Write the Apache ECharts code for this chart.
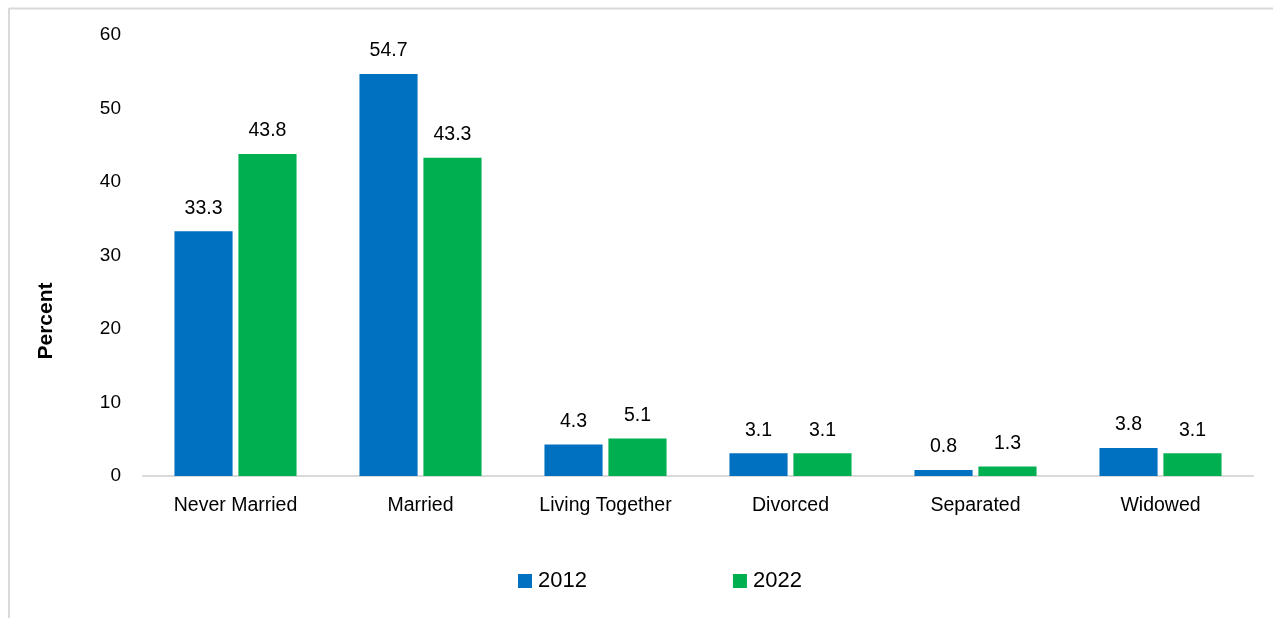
<!DOCTYPE html>
<html>
<head>
<meta charset="utf-8">
<script src="https://cdn.jsdelivr.net/npm/echarts@6/dist/echarts.min.js"></script>
<style>
  html, body { margin: 0; padding: 0; background: #fff; }
  #chart { width: 1273px; height: 618px; }
</style>
</head>
<body>
<div id="chart"></div>
<script>
  // marital status, percent
  const categories = ['Never Married', 'Married', 'Living Together', 'Divorced', 'Separated', 'Widowed']
  const values2012 = [33.3, 54.7, 4.3, 3.1, 0.8, 3.8]
  const values2022 = [43.8, 43.3, 5.1, 3.1, 1.3, 3.1]

  const font = '"Liberation Sans", Arial, sans-serif'
  let chart = echarts.init(document.getElementById('chart'))
  chart.setOption({
    textStyle: { fontFamily: font },
    animation: false,
    graphic: [
      { type: 'line', shape: { x1: 9, y1: 8.5, x2: 1273, y2: 8.5 }, style: { stroke: '#d9d9d9', lineWidth: 2 } },
      { type: 'line', shape: { x1: 9, y1: 8, x2: 9, y2: 618 }, style: { stroke: '#d9d9d9', lineWidth: 2 } },
      {
        type: 'text', x: 46, y: 321, rotation: Math.PI / 2,
        style: { text: 'Percent', font: 'bold 21px ' + font, fill: '#000', align: 'center', verticalAlign: 'middle' }
      }
    ],
    grid: { left: 143, right: 20, top: 35, bottom: 142 },
    legend: {
      data: ['2012', '2022'],
      bottom: 21,
      left: 513,
      itemWidth: 14,
      itemHeight: 14,
      itemGap: 146,
      icon: 'rect',
      textStyle: { fontSize: 22, color: '#000', fontFamily: font, padding: [0, 0, 0, 1] }
    },
    xAxis: {
      type: 'category',
      data: categories,
      axisLine: { lineStyle: { color: '#d9d9d9', width: 2 } },
      axisTick: { show: false },
      axisLabel: { fontSize: 19.5, color: '#000', margin: 20, interval: 0, fontFamily: font }
    },
    yAxis: {
      type: 'value',
      min: 0,
      max: 60,
      interval: 10,
      axisLine: { show: false },
      axisTick: { show: false },
      splitLine: { show: false },
      axisLabel: { fontSize: 19, color: '#000', margin: 22, fontFamily: font }
    },
    series: [
      {
        name: '2012',
        type: 'bar',
        data: values2012,
        barGap: '10%',
        barCategoryGap: '34%',
        itemStyle: { color: '#0070c0' },
        label: { show: true, position: 'top', distance: 13, fontSize: 19.5, color: '#000', fontFamily: font }
      },
      {
        name: '2022',
        type: 'bar',
        data: values2022,
        itemStyle: { color: '#00b050' },
        label: { show: true, position: 'top', distance: 13, fontSize: 19.5, color: '#000', fontFamily: font }
      }
    ]
  })
</script>
</body>
</html>
